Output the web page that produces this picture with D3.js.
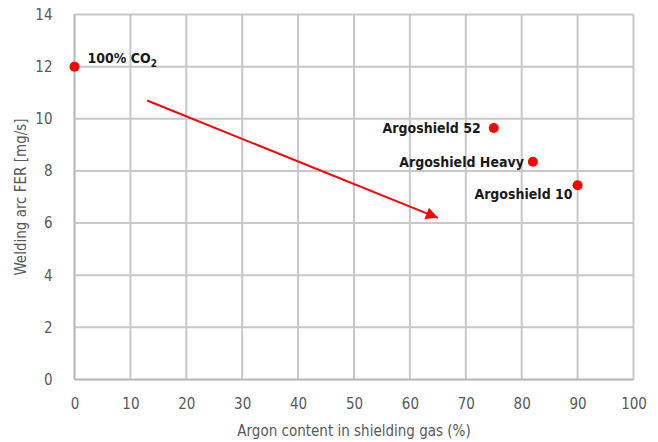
<!DOCTYPE html>
<html><head><meta charset="utf-8">
<script src="https://cdn.jsdelivr.net/npm/d3@7"></script>
<style>
body{margin:0;background:#fff;}
svg text{font-family:"DejaVu Sans Condensed","Liberation Sans Narrow","Open Sans",sans-serif;}
</style></head><body>
<svg id="c" width="658" height="442"></svg>
<script>
const names = ["100% CO2", "Argoshield 52", "Argoshield Heavy", "Argoshield 10"];
const argon = [0, 75, 82, 90];
const fer = [12, 9.65, 8.35, 7.45];
const xTicks = [0,10,20,30,40,50,60,70,80,90,100];
const yTicks = [0,2,4,6,8,10,12,14];
const arrowFrom = [13, 10.7];
const arrowTo = [65, 6.2];

const svg = d3.select("#c");
const x = d3.scaleLinear().domain([0,100]).range([74.5,633.5]);
const y = d3.scaleLinear().domain([0,14]).range([379.5,14.5]);
const grid = "#c8c8c8";

svg.append("g").selectAll("line").data(xTicks).join("line")
  .attr("x1",d=>x(d)).attr("x2",d=>x(d)).attr("y1",y(0)).attr("y2",y(14))
  .attr("stroke",d=>d===0?"#b4b4b4":grid).attr("stroke-width",2);
svg.append("g").selectAll("line").data(yTicks).join("line")
  .attr("y1",d=>y(d)).attr("y2",d=>y(d)).attr("x1",x(0)).attr("x2",x(100))
  .attr("stroke",d=>d===0?"#b4b4b4":grid).attr("stroke-width",2);

const xAxis = svg.append("g").attr("transform",`translate(0,${y(0)+8})`)
  .call(d3.axisBottom(x).tickValues(xTicks).tickSize(0).tickPadding(11));
xAxis.select(".domain").remove();
xAxis.selectAll("text").attr("fill","#595959").style("font-size","15px");
const yAxis = svg.append("g").attr("transform",`translate(${x(0)-12},0)`)
  .call(d3.axisLeft(y).tickValues(yTicks).tickSize(0).tickPadding(10));
yAxis.select(".domain").remove();
yAxis.selectAll("text").attr("fill","#595959").style("font-size","15px");

svg.append("text").attr("x",(x(0)+x(100))/2).attr("y",436).attr("text-anchor","middle")
  .attr("fill","#595959").style("font-size","15px").text("Argon content in shielding gas (%)");
svg.append("text").attr("transform",`translate(26,${(y(0)+y(14))/2}) rotate(-90)`).attr("text-anchor","middle")
  .attr("fill","#595959").style("font-size","15px").text("Welding arc FER [mg/s]");

// arrow
const defs = svg.append("defs");
defs.append("marker").attr("id","ah").attr("viewBox","0 0 10 10").attr("refX",10).attr("refY",5)
  .attr("markerWidth",7).attr("markerHeight",6).attr("markerUnits","strokeWidth").attr("orient","auto")
  .append("path").attr("d","M0,0 L10,5 L0,10 z").attr("fill","#ff0000");
svg.append("line").attr("x1",x(arrowFrom[0])).attr("y1",y(arrowFrom[1]))
  .attr("x2",x(arrowTo[0])).attr("y2",y(arrowTo[1]))
  .attr("stroke","#ff0000").attr("stroke-width",2).attr("marker-end","url(#ah)");

const data = names.map((n,i)=>({n, a:argon[i], f:fer[i]}));
svg.append("g").selectAll("circle").data(data).join("circle")
  .attr("cx",d=>x(d.a)).attr("cy",d=>y(d.f)).attr("r",5).attr("fill","#ff0000");

// labels
const lab = svg.append("g").style("font-size","14px").style("font-weight","bold").attr("fill","#1a1a1a");
const co2 = lab.append("text").attr("x",x(0)+13).attr("y",y(12)-4);
co2.append("tspan").text("100% CO");
co2.append("tspan").attr("dy",4).style("font-size","10px").text("2");
lab.append("text").attr("x",x(75)-13).attr("y",y(9.65)+5).attr("text-anchor","end").text("Argoshield 52");
lab.append("text").attr("x",x(82)-9).attr("y",y(8.35)+5).attr("text-anchor","end").text("Argoshield Heavy");
lab.append("text").attr("x",x(90)-5).attr("y",y(7.45)+14).attr("text-anchor","end").text("Argoshield 10");
</script></body></html>
